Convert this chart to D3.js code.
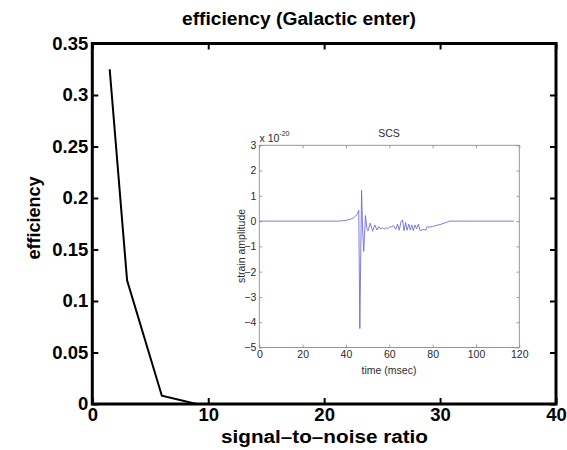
<!DOCTYPE html>
<html><head><meta charset="utf-8">
<script src="https://cdn.jsdelivr.net/npm/d3@7"></script>
<style>body{margin:0;background:#fff}svg{display:block}</style>
</head><body>
<script>
// Main chart data
const snr = [1.5, 3, 6, 9];
const efficiency = [0.325, 0.12, 0.008, 0];
const xTicks = [0, 10, 20, 30, 40];
const yTicks = [0, 0.05, 0.1, 0.15, 0.2, 0.25, 0.3, 0.35];
const yTickLabels = ["0", "0.05", "0.1", "0.15", "0.2", "0.25", "0.3", "0.35"];
// Inset waveform data (time in msec, strain in units of 1e-20)
const timeMs = [0, 20, 36, 38, 40, 42, 43.5, 44.5, 45.3, 45.9, 46.4, 47.2, 47.7, 48.2, 49.0, 49.7, 50.2, 51.2, 52.3, 53.3, 54.3, 55.2, 56.0, 56.8, 57.6, 58.4, 59.2, 60.0, 61.0, 62.0, 63.0, 63.8, 64.6, 65.4, 66.1, 66.8, 67.5, 68.2, 69.0, 69.7, 70.4, 71.1, 71.8, 72.6, 73.4, 74.2, 75.0, 76.0, 76.8, 77.4, 78.2, 80, 84, 88, 100, 117.5];
const strain = [0, 0, 0, 0.01, 0.03, 0.07, 0.13, 0.2, 0.3, 0.42, -4.25, 1.22, -0.35, -1.2, 0.22, -0.3, -0.38, -0.08, -0.4, -0.15, -0.35, -0.22, -0.32, -0.25, -0.32, -0.26, -0.3, -0.24, -0.22, -0.18, -0.32, -0.12, -0.36, -0.02, 0.05, -0.38, -0.05, -0.36, -0.12, -0.35, -0.15, -0.38, -0.15, -0.3, -0.12, -0.38, -0.35, -0.33, -0.36, -0.22, -0.24, -0.21, -0.12, 0, 0, 0];
const insetXTicks = [0, 20, 40, 60, 80, 100, 120];
const insetYTicks = [-5, -4, -3, -2, -1, 0, 1, 2, 3];

const W = 567, H = 450;
const svg = d3.select("body").append("svg").attr("width", W).attr("height", H);
const font = "'Liberation Sans', Arial, Helvetica, sans-serif";

const x = d3.scaleLinear().domain([0, 40]).range([92.3, 556]);
const y = d3.scaleLinear().domain([0, 0.35]).range([404, 43.5]);

// ticks (inward) on all four sides
const gx = svg.append("g").attr("transform", `translate(0,${y(0)})`)
  .call(d3.axisBottom(x).tickValues(xTicks).tickSizeInner(-6).tickSizeOuter(0).tickPadding(4));
const gxt = svg.append("g").attr("transform", `translate(0,${y(0.35)})`)
  .call(d3.axisTop(x).tickValues(xTicks).tickSizeInner(-6).tickSizeOuter(0).tickFormat(""));
const gy = svg.append("g").attr("transform", `translate(${x(0)},0)`)
  .call(d3.axisLeft(y).tickValues(yTicks).tickSizeInner(-6).tickSizeOuter(0).tickPadding(4)
    .tickFormat((d, i) => yTickLabels[i]));
const gyr = svg.append("g").attr("transform", `translate(${x(40)},0)`)
  .call(d3.axisRight(y).tickValues(yTicks).tickSizeInner(-6).tickSizeOuter(0).tickFormat(""));
[gx, gxt, gy, gyr].forEach(g => {
  g.select(".domain").remove();
  g.selectAll(".tick line").attr("stroke", "#000").attr("stroke-width", 2);
  g.selectAll(".tick text").attr("fill", "#000").attr("font-family", font)
    .attr("font-weight", "bold").attr("font-size", 18.5);
});
gx.selectAll(".tick text").attr("dy", "0.72em");

// box
svg.append("rect").attr("x", x(0)).attr("y", y(0.35))
  .attr("width", x(40) - x(0)).attr("height", y(0) - y(0.35))
  .attr("fill", "none").attr("stroke", "#000").attr("stroke-width", 3);

// main line
svg.append("path").datum(snr.map((d, i) => [d, efficiency[i]]))
  .attr("fill", "none").attr("stroke", "#000").attr("stroke-width", 2)
  .attr("d", d3.line().x(d => x(d[0])).y(d => y(d[1])));

// titles
svg.append("text").attr("x", 299).attr("y", 25).attr("text-anchor", "middle")
  .attr("font-family", font).attr("font-weight", "bold").attr("font-size", 17.5)
  .attr("textLength", 234).attr("lengthAdjust", "spacingAndGlyphs")
  .text("efficiency (Galactic enter)");
svg.append("text").attr("x", 324.5).attr("y", 443).attr("text-anchor", "middle")
  .attr("font-family", font).attr("font-weight", "bold").attr("font-size", 18)
  .attr("textLength", 207).attr("lengthAdjust", "spacingAndGlyphs")
  .text("signal\u2013to\u2013noise ratio");
svg.append("text").attr("transform", "translate(40,218) rotate(-90)").attr("text-anchor", "middle")
  .attr("font-family", font).attr("font-weight", "bold").attr("font-size", 18)
  .attr("textLength", 83).attr("lengthAdjust", "spacingAndGlyphs")
  .text("efficiency");

// ---------- inset ----------
const xi = d3.scaleLinear().domain([0, 120]).range([259.3, 519.3]);
const yi = d3.scaleLinear().domain([-5, 3]).range([347.5, 145.3]);
const ins = svg.append("g");
const axCol = "#8c8c8c", txtCol = "#2a2a2a";
const gix = ins.append("g").attr("transform", `translate(0,${yi(-5)})`)
  .call(d3.axisBottom(xi).tickValues(insetXTicks).tickSizeInner(-3).tickSizeOuter(0).tickPadding(4));
const gixt = ins.append("g").attr("transform", `translate(0,${yi(3)})`)
  .call(d3.axisTop(xi).tickValues(insetXTicks).tickSizeInner(-3).tickSizeOuter(0).tickFormat(""));
const giy = ins.append("g").attr("transform", `translate(${xi(0)},0)`)
  .call(d3.axisLeft(yi).tickValues(insetYTicks).tickSizeInner(-3).tickSizeOuter(0).tickPadding(3));
const giyr = ins.append("g").attr("transform", `translate(${xi(120)},0)`)
  .call(d3.axisRight(yi).tickValues(insetYTicks).tickSizeInner(-3).tickSizeOuter(0).tickFormat(""));
[gix, gixt, giy, giyr].forEach(g => {
  g.select(".domain").remove();
  g.selectAll(".tick line").attr("stroke", axCol).attr("stroke-width", 0.8);
  g.selectAll(".tick text").attr("fill", txtCol).attr("font-family", font).attr("font-size", 10.5);
});
gix.selectAll(".tick text").attr("dy", "0.6em");
ins.append("rect").attr("x", xi(0)).attr("y", yi(3))
  .attr("width", xi(120) - xi(0)).attr("height", yi(-5) - yi(3))
  .attr("fill", "none").attr("stroke", axCol).attr("stroke-width", 0.9);

ins.append("path").datum(timeMs.map((d, i) => [d, strain[i]]))
  .attr("fill", "none").attr("stroke", "#6e6ed6").attr("stroke-width", 0.9)
  .attr("d", d3.line().x(d => xi(d[0])).y(d => yi(d[1])));

ins.append("text").attr("x", 389).attr("y", 136.5).attr("text-anchor", "middle")
  .attr("font-family", font).attr("font-size", 10.5).attr("fill", txtCol).text("SCS");
ins.append("text").attr("x", 389).attr("y", 373.5).attr("text-anchor", "middle")
  .attr("font-family", font).attr("font-size", 10.5).attr("fill", txtCol).text("time (msec)");
ins.append("text").attr("transform", "translate(245,246) rotate(-90)").attr("text-anchor", "middle")
  .attr("font-family", font).attr("font-size", 10.5).attr("fill", txtCol).text("strain amplitude");
const sci = ins.append("text").attr("x", 259.5).attr("y", 141.5)
  .attr("font-family", font).attr("font-size", 10.5).attr("fill", txtCol);
sci.append("tspan").text("x 10");
sci.append("tspan").attr("dy", -6).attr("font-size", 7).text("-20");
</script>
</body></html>
